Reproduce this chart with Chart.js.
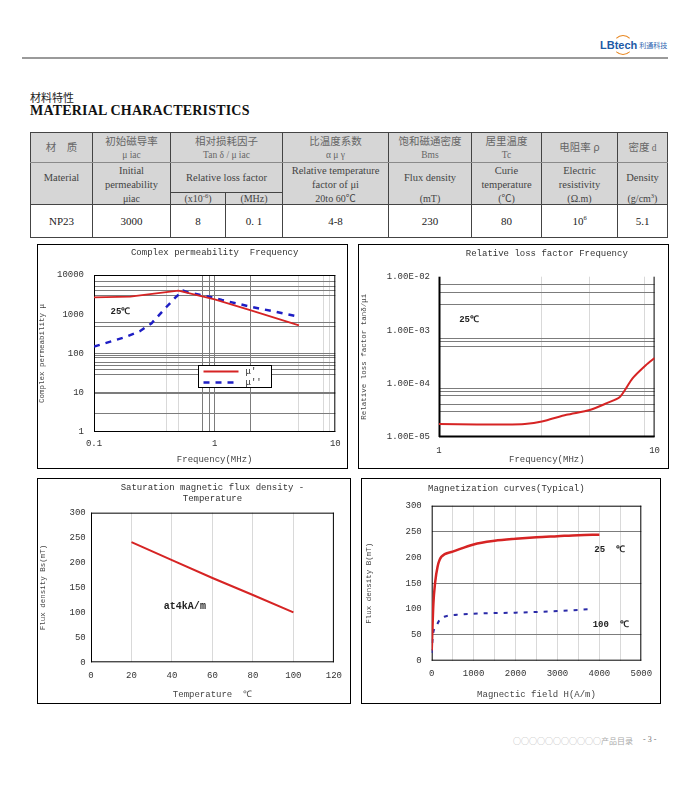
<!DOCTYPE html>
<html lang="zh">
<head>
<meta charset="utf-8">
<title>NP23 材料特性</title>
<script src="https://cdn.jsdelivr.net/npm/chart.js"></script>
<style>
  html, body { margin: 0; padding: 0; background: #fff; }
  body { width: 700px; height: 792px; position: relative; overflow: hidden; font-family: "Liberation Serif", "Noto Sans CJK SC", serif; color: #222; }
  .logo { position: absolute; left: 600px; top: 39px; font: bold 11px "Liberation Sans", sans-serif; color: #1d5aa6; white-space: nowrap; }
  .logo small { font: 7px "Noto Sans CJK SC"; color: #2c64b0; margin-left: 2px; vertical-align: 1px; }
  .logo-arc { position: absolute; left: 613px; top: 35px; width: 20px; height: 20px; border: 1.5px solid #e8861e; border-left-color: transparent; border-right-color: transparent; border-radius: 50%; box-sizing: border-box; }
  .rule { position: absolute; left: 22px; top: 57px; width: 646px; height: 2px; background: #9a9a9a; }
  .cn-title { position: absolute; left: 30px; top: 91px; font: 11px/12px "Noto Sans CJK SC"; color: #222; }
  .en-title { position: absolute; left: 30px; top: 104px; font: bold 14px/14px "Liberation Serif"; color: #111; letter-spacing: 0.2px; }
  table.spec { position: absolute; left: 30px; top: 132px; width: 637px; border-collapse: collapse; table-layout: fixed; border: 1.5px solid #222; }
  .spec td { border: 1px solid #444; text-align: center; vertical-align: middle; padding: 0; font-size: 10.5px; line-height: 14px; color: #444; white-space: nowrap; overflow: hidden; }
  .spec .r1 td { background: #d6d6d6; color: #666; font-size: 9.5px; line-height: 13px; border-bottom-color: #8a8a8a; }
  .spec .r1 td .cn { font-family: "Noto Sans CJK SC"; font-size: 10.5px; }
  .spec .r2 td { background: #d6d6d6; border-bottom: none; }
  .spec .r3 td { background: #d6d6d6; border-top: none; font-size: 10px; line-height: 11px; }
  .spec .r2 td.sub, .spec .r3 td.sub { border-top: 1px solid #444; border-bottom: 1px solid #444; }
  .spec .r4 td { color: #222; font-size: 11px; }
  .spec sup { font-size: 6.5px; line-height: 0; }
  .box { position: absolute; border: 1px solid #000; box-sizing: border-box; background: #fff; }
  .box canvas { display: block; }
  .foot { position: absolute; left: 513px; top: 735px; font: 8px "Noto Sans CJK SC"; color: #aaa; white-space: nowrap; }
  .page { position: absolute; left: 643px; top: 735px; font: 8px "Liberation Serif"; color: #777; }
</style>
</head>
<body>

<div class="logo-arc"></div>
<div class="logo">LBtech<small>利通科技</small></div>
<div class="rule"></div>

<div class="cn-title">材料特性</div>
<div class="en-title">MATERIAL CHARACTERISTICS</div>

<table class="spec">
  <colgroup>
    <col style="width:62px"><col style="width:78px"><col style="width:55px"><col style="width:57px">
    <col style="width:106px"><col style="width:83px"><col style="width:70px"><col style="width:76px"><col style="width:50px">
  </colgroup>
  <tr class="r1" style="height:30px">
    <td><span class="cn">材　质</span></td>
    <td><span class="cn">初始磁导率</span><br>μ iac</td>
    <td colspan="2"><span class="cn">相对损耗因子</span><br>Tan δ / μ iac</td>
    <td><span class="cn">比温度系数</span><br>α μ γ</td>
    <td><span class="cn">饱和磁通密度</span><br>Bms</td>
    <td><span class="cn">居里温度</span><br>Tc</td>
    <td><span class="cn">电阻率 ρ</span></td>
    <td><span class="cn">密度</span> d</td>
  </tr>
  <tr class="r2" style="height:30px">
    <td>Material</td>
    <td>Initial<br>permeability</td>
    <td colspan="2" class="sub">Relative loss factor</td>
    <td>Relative temperature<br>factor of μi</td>
    <td>Flux density</td>
    <td>Curie<br>temperature</td>
    <td>Electric<br>resistivity</td>
    <td>Density</td>
  </tr>
  <tr class="r3" style="height:12px">
    <td></td>
    <td>μiac</td>
    <td class="sub">(x10<sup>-6</sup>)</td>
    <td class="sub">(MHz)</td>
    <td>20to 60℃</td>
    <td>(mT)</td>
    <td>(℃)</td>
    <td>(Ω.m)</td>
    <td>(g/cm<sup>3</sup>)</td>
  </tr>
  <tr class="r4" style="height:33px">
    <td>NP23</td><td>3000</td><td>8</td><td>0. 1</td><td>4-8</td><td>230</td><td>80</td><td>10<sup>6</sup></td><td>5.1</td>
  </tr>
</table>

<div class="box" style="left:37px;top:244px;width:311px;height:225px"><canvas id="permChart" width="309" height="223"></canvas></div>
<div class="box" style="left:358px;top:244px;width:311px;height:225px"><canvas id="lossChart" width="309" height="223"></canvas></div>
<div class="box" style="left:37px;top:478px;width:314px;height:226px"><canvas id="satChart" width="312" height="224"></canvas></div>
<div class="box" style="left:361px;top:478px;width:300px;height:226px"><canvas id="magChart" width="298" height="224"></canvas></div>

<div class="foot">○○○○○○○○○○○产品目录</div>
<div class="page">- 3 -</div>

<script>
// complex permeability vs frequency (MHz)
const permFreqReal = [0.1, 0.2, 0.26, 0.5, 1, 2, 5];
const permReal = [2700, 2800, 3100, 4000, 2400, 1250, 520];
const permFreqImag = [0.1, 0.18, 0.24, 0.3, 0.4, 0.48, 0.55, 0.6, 0.9, 1.15, 2, 5];
const permImag = [150, 260, 370, 590, 1550, 2800, 4000, 3600, 2800, 2300, 1550, 870];
const permXTicks = [0.1, 0.4, 0.5, 0.8, 0.9, 1, 2, 5, 8, 9, 10];
const permXLabels = [0.1, 1, 10];
const permXDark = [0.8, 0.9, 1, 2];
const permYTicks = [1, 3, 10, 30, 40, 50, 60, 80, 90, 100, 500, 600, 1000, 3000, 4000, 5000, 7000, 10000];
const permYLabels = [1, 10, 100, 1000, 10000];
const permYDark = [3, 10, 30, 40, 50, 60, 80, 90, 100, 500, 600, 3000, 4000, 5000, 7000];

// relative loss factor vs frequency (MHz)
const lossFreq = [1, 1.5, 2, 2.5, 3, 3.9, 5, 6, 6.9, 7.9, 9.1, 10];
const lossFactor = [1.75e-5, 1.72e-5, 1.72e-5, 1.76e-5, 1.95e-5, 2.6e-5, 3.2e-5, 4.3e-5, 5.6e-5, 1.25e-4, 2.2e-4, 3.0e-4];
const lossXTicks = [1, 3, 5, 9, 10];
const lossXLabels = [1, 10];
const lossYTicks = [1e-5, 3e-5, 4e-5, 6e-5, 7e-5, 8e-5, 1e-4, 5e-4, 6e-4, 7e-4, 1e-3, 3e-3, 5e-3, 7e-3, 1e-2];

// saturation flux density vs temperature
const satTemp = [20, 40, 60, 80, 100];
const satFlux = [241, 205, 169, 135, 100];

// magnetization curves
const magField25 = [0, 40, 80, 140, 230, 500, 1000, 1500, 2000, 2500, 3000, 3500, 4000];
const magFlux25 = [20, 110, 150, 182, 201, 211, 225, 232, 236, 239, 241, 243, 244];
const magField100 = [0, 30, 100, 190, 300, 600, 1000, 2000, 3000, 3850];
const magFlux100 = [15, 50, 65, 79, 85, 89, 91, 93, 96, 100];
const magYDark = [50, 150, 250];

const MONO = '"Liberation Mono", "DejaVu Sans Mono", monospace';
const RED = '#d62424';
const BLUE = '#1e1ec4';
const DARK_GRID = '#7c7c7c';
const LIGHT_GRID = '#d9d9d9';

Chart.defaults.font.family = MONO;
Chart.defaults.font.size = 9;
Chart.defaults.color = '#333';
Chart.defaults.animation = false;

function points(xs, ys) {
    return xs.map((x, i) => ({ x: x, y: ys[i] }));
}

function has(list, v) {
    return list.some(a => Math.abs(a - v) < Math.abs(v) * 1e-6);
}

function sciLabel(v) {
    const e = Math.round(Math.log10(v));
    return '1.00E' + (e < 0 ? '-' : '+') + String(Math.abs(e)).padStart(2, '0');
}

// plot border, drawn side by side
const framePlugin = {
    id: 'frame',
    beforeDatasetsDraw(chart, args, opts) {
        const { ctx, chartArea: a } = chart;
        const s = opts.sides || {};
        ctx.save();
        ctx.strokeStyle = '#000';
        const line = (w, x1, y1, x2, y2) => {
            if (!w) return;
            ctx.lineWidth = w;
            ctx.beginPath();
            ctx.moveTo(x1, y1);
            ctx.lineTo(x2, y2);
            ctx.stroke();
        };
        line(s.top, a.left, a.top + 0.5, a.right, a.top + 0.5);
        line(s.right, a.right - 0.5, a.top, a.right - 0.5, a.bottom);
        line(s.bottom, a.left, a.bottom - 0.5, a.right, a.bottom - 0.5);
        line(s.left, a.left + 0.5, a.top, a.left + 0.5, a.bottom);
        ctx.restore();
    }
};

// free text notes placed in data coordinates
const notesPlugin = {
    id: 'notes',
    afterDatasetsDraw(chart, args, opts) {
        const { ctx, scales } = chart;
        ctx.save();
        ctx.fillStyle = '#222';
        ctx.textBaseline = 'middle';
        ctx.textAlign = 'left';
        (opts.items || []).forEach(n => {
            ctx.font = n.font;
            ctx.fillText(n.text, scales.x.getPixelForValue(n.x), scales.y.getPixelForValue(n.y));
        });
        ctx.restore();
    }
};

// small boxed legend inside the plot
const boxLegendPlugin = {
    id: 'boxLegend',
    afterDatasetsDraw(chart, args, opts) {
        if (!opts.display) return;
        const { ctx, chartArea: a } = chart;
        const x = Math.round(a.left + opts.dx) + 0.5;
        const y = Math.round(a.top + opts.dy) + 0.5;
        ctx.save();
        ctx.fillStyle = '#fff';
        ctx.strokeStyle = '#000';
        ctx.lineWidth = 1;
        ctx.fillRect(x, y, opts.w, opts.h);
        ctx.strokeRect(x, y, opts.w, opts.h);
        chart.data.datasets.forEach((ds, i) => {
            const ly = y + 6 + i * 11;
            ctx.strokeStyle = ds.borderColor;
            ctx.lineWidth = ds.borderWidth;
            ctx.setLineDash(ds.borderDash || []);
            ctx.beginPath();
            ctx.moveTo(x + 5, ly);
            ctx.lineTo(x + 40, ly);
            ctx.stroke();
            ctx.setLineDash([]);
            ctx.fillStyle = '#333';
            ctx.font = '9px ' + MONO;
            ctx.textBaseline = 'middle';
            ctx.fillText(ds.label, x + 47, ly);
        });
        ctx.restore();
    }
};

function titleBlock(text, top, bottom, overPlot) {
    return {
        display: true, text: text, color: '#333', fullSize: !overPlot,
        font: { size: 9, weight: 'normal', lineHeight: 1.2 },
        padding: { top: top, bottom: bottom }
    };
}

function axisTitle(text, size, pad) {
    return { display: true, text: text, color: '#444', font: { size: size, lineHeight: 1 }, padding: pad };
}

function configurePermChart() {
    new Chart(document.getElementById('permChart'), {
        type: 'line',
        data: {
            datasets: [{
                label: "μ'",
                data: points(permFreqReal, permReal),
                borderColor: RED, borderWidth: 1.8, pointRadius: 0, tension: 0
            }, {
                label: "μ''",
                data: points(permFreqImag, permImag),
                borderColor: BLUE, borderWidth: 2.5, borderDash: [6, 6], pointRadius: 0, tension: 0
            }]
        },
        options: {
            responsive: false, devicePixelRatio: 1,
            layout: { padding: { top: 0, right: 10, left: 0, bottom: 0 } },
            plugins: {
                legend: { display: false }, tooltip: { enabled: false },
                title: titleBlock('Complex permeability  Frequency', 2, 17.2, true),
                frame: { sides: { top: 1, right: 1, bottom: 1, left: 1 } },
                notes: { items: [{ x: 0.137, y: 1170, text: '25℃', font: 'bold 9px ' + MONO }] },
                boxLegend: { display: true, dx: 104, dy: 90, w: 73, h: 22 }
            },
            scales: {
                x: {
                    type: 'logarithmic', min: 0.1, max: 10,
                    afterBuildTicks: s => { s.ticks = permXTicks.map(v => ({ value: v })); },
                    afterFit: s => { s.height = 36; },
                    border: { display: false },
                    grid: {
                        drawTicks: false,
                        color: c => has(permXDark, c.tick.value) ? DARK_GRID : (c.tick.value === 0.1 || c.tick.value === 10 ? 'rgba(0,0,0,0)' : LIGHT_GRID)
                    },
                    ticks: { autoSkip: false, maxRotation: 0, padding: 6.3, callback: v => has(permXLabels, v) ? String(v) : '' },
                    title: axisTitle('Frequency(MHz)', 9, { top: 0, bottom: 3.5 })
                },
                y: {
                    type: 'logarithmic', min: 1, max: 10000,
                    afterBuildTicks: s => { s.ticks = permYTicks.map(v => ({ value: v })); },
                    afterFit: s => { s.width = 56; },
                    border: { display: false },
                    grid: {
                        drawTicks: false,
                        color: c => has(permYDark, c.tick.value) ? DARK_GRID : 'rgba(0,0,0,0)',
                        lineWidth: c => c.tick.value === 10 ? 2 : 1
                    },
                    ticks: { autoSkip: false, padding: 10, callback: v => has(permYLabels, v) ? String(v) : '' },
                    title: axisTitle('Complex permeability μ', 7.5, { top: 0, bottom: 0 })
                }
            }
        },
        plugins: [framePlugin, notesPlugin, boxLegendPlugin]
    });
}

function configureLossChart() {
    new Chart(document.getElementById('lossChart'), {
        type: 'line',
        data: {
            datasets: [{
                label: 'tanδ/μi',
                data: points(lossFreq, lossFactor),
                borderColor: RED, borderWidth: 2, pointRadius: 0, tension: 0.25
            }]
        },
        options: {
            responsive: false, devicePixelRatio: 1,
            layout: { padding: { top: 0, right: 11, left: 0, bottom: 0 } },
            plugins: {
                legend: { display: false }, tooltip: { enabled: false },
                title: titleBlock('Relative loss factor Frequency', 3, 17.9, true),
                frame: { sides: { top: 0, right: 1, bottom: 2, left: 2 } },
                notes: { items: [{ x: 1.24, y: 1.56e-3, text: '25℃', font: 'bold 9px ' + MONO }] }
            },
            scales: {
                x: {
                    type: 'logarithmic', min: 1, max: 10,
                    afterBuildTicks: s => { s.ticks = lossXTicks.map(v => ({ value: v })); },
                    afterFit: s => { s.height = 31; },
                    border: { display: false },
                    grid: {
                        drawTicks: false,
                        color: c => has(lossXLabels, c.tick.value) ? 'rgba(0,0,0,0)' : LIGHT_GRID
                    },
                    ticks: { autoSkip: false, maxRotation: 0, padding: 8, callback: v => has(lossXLabels, v) ? String(v) : '' },
                    title: axisTitle('Frequency(MHz)', 9, { top: 0, bottom: 3.5 })
                },
                y: {
                    type: 'logarithmic', min: 1e-5, max: 1e-2,
                    afterBuildTicks: s => { s.ticks = lossYTicks.map(v => ({ value: v })); },
                    afterFit: s => { s.width = 80; },
                    border: { display: false },
                    grid: {
                        drawTicks: false,
                        color: c => {
                            const l = Math.log10(c.tick.value);
                            return Math.abs(l - Math.round(l)) < 1e-6 ? 'rgba(0,0,0,0)' : DARK_GRID;
                        }
                    },
                    ticks: {
                        autoSkip: false, padding: 9,
                        callback: v => {
                            const l = Math.log10(v);
                            return Math.abs(l - Math.round(l)) < 1e-6 ? sciLabel(v) : '';
                        }
                    },
                    title: axisTitle('Relative loss factor tanδ/μi', 7.5, { top: 1.5, bottom: 0 })
                }
            }
        },
        plugins: [framePlugin, notesPlugin]
    });
}

function configureSatChart() {
    new Chart(document.getElementById('satChart'), {
        type: 'line',
        data: {
            datasets: [{
                label: 'Bs',
                data: points(satTemp, satFlux),
                borderColor: RED, borderWidth: 2, pointRadius: 0, tension: 0
            }]
        },
        options: {
            responsive: false, devicePixelRatio: 1,
            layout: { padding: { top: 0, right: 8.5, left: 0, bottom: 0 } },
            plugins: {
                legend: { display: false }, tooltip: { enabled: false },
                title: {
                    display: true, fullSize: false, color: '#333',
                    text: ['Saturation magnetic flux density -', 'Temperature'],
                    font: { size: 9, weight: 'normal', lineHeight: 1.22 },
                    padding: { top: 3.5, bottom: 8.2 }
                },
                frame: { sides: { top: 1, right: 1, bottom: 1, left: 1 } },
                notes: { items: [{ x: 36, y: 111, text: 'at4kA/m', font: 'bold 10px ' + MONO }] }
            },
            scales: {
                x: {
                    type: 'linear', min: 0, max: 120,
                    afterFit: s => { s.height = 40.7; },
                    border: { display: false },
                    grid: { drawTicks: false, color: c => (c.tick.value === 0 || c.tick.value === 120) ? 'rgba(0,0,0,0)' : LIGHT_GRID },
                    ticks: { stepSize: 20, autoSkip: false, maxRotation: 0, padding: 8 },
                    title: axisTitle('Temperature  ℃', 9, { top: 0, bottom: 3.5 })
                },
                y: {
                    type: 'linear', min: 0, max: 300,
                    afterFit: s => { s.width = 53; },
                    border: { display: false },
                    grid: { drawTicks: false, display: false },
                    ticks: { stepSize: 50, autoSkip: false, padding: 5.3 },
                    title: axisTitle('Flux density Bs(mT)', 7.5, { top: 1.2, bottom: 0 })
                }
            }
        },
        plugins: [framePlugin, notesPlugin]
    });
}

function configureMagChart() {
    new Chart(document.getElementById('magChart'), {
        type: 'line',
        data: {
            datasets: [{
                label: '25 ℃',
                data: points(magField25, magFlux25),
                borderColor: RED, borderWidth: 2.5, pointRadius: 0, cubicInterpolationMode: 'monotone'
            }, {
                label: '100 ℃',
                data: points(magField100, magFlux100),
                borderColor: '#2a2aa8', borderWidth: 2, borderDash: [4, 6], pointRadius: 0, cubicInterpolationMode: 'monotone'
            }]
        },
        options: {
            responsive: false, devicePixelRatio: 1,
            layout: { padding: { top: 0, right: 9.3, left: 0, bottom: 0 } },
            plugins: {
                legend: { display: false }, tooltip: { enabled: false },
                title: titleBlock('Magnetization curves(Typical)', 3.9, 12, false),
                frame: { sides: { top: 1, right: 1, bottom: 1, left: 1 } },
                notes: {
                    items: [
                        { x: 3880, y: 214, text: '25  ℃', font: 'bold 9px ' + MONO },
                        { x: 3840, y: 70, text: '100  ℃', font: 'bold 9px ' + MONO }
                    ]
                }
            },
            scales: {
                x: {
                    type: 'linear', min: 0, max: 5000,
                    afterFit: s => { s.height = 42.3; },
                    border: { display: false },
                    grid: { drawTicks: false, color: c => (c.tick.value === 0 || c.tick.value === 5000) ? 'rgba(0,0,0,0)' : LIGHT_GRID },
                    ticks: { stepSize: 500, autoSkip: false, maxRotation: 0, padding: 7.9, callback: v => v % 1000 === 0 ? String(v) : '' },
                    title: axisTitle('Magnectic field H(A/m)', 9, { top: 0, bottom: 3.5 })
                },
                y: {
                    type: 'linear', min: 0, max: 300,
                    afterFit: s => { s.width = 69.7; },
                    border: { display: false },
                    grid: { drawTicks: false, color: c => magYDark.includes(c.tick.value) ? DARK_GRID : 'rgba(0,0,0,0)' },
                    ticks: { stepSize: 50, autoSkip: false, padding: 10 },
                    title: axisTitle('Flux density B(mT)', 7.5, { top: 3.2, bottom: 0 })
                }
            }
        },
        plugins: [framePlugin, notesPlugin]
    });
}

document.addEventListener('DOMContentLoaded', function() {
    configurePermChart();
    configureLossChart();
    configureSatChart();
    configureMagChart();
});
</script>
</body>
</html>
